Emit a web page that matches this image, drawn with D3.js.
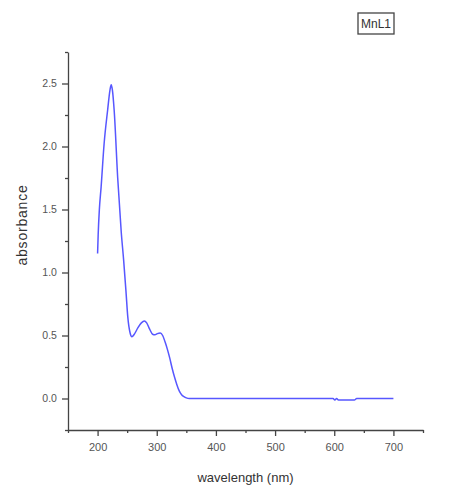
<!DOCTYPE html>
<html>
<head>
<meta charset="utf-8">
<script src="https://cdn.jsdelivr.net/npm/d3@7"></script>
<style>
  body { margin: 0; background: #fff; }
  text { font-family: Arial, "Liberation Sans", sans-serif; }
</style>
</head>
<body>
<div id="chart"></div>
<script>
// UV-Vis spectrum
const wavelength = [200, 201, 203, 206, 211, 217, 221, 223, 225, 228, 234, 240, 244, 248, 251, 255, 258,
  262, 268, 274, 279, 283, 288, 293, 297, 301, 306, 310, 314, 318, 322, 326, 330, 334, 338, 342, 346,
  350, 355, 400, 450, 500, 550, 598, 601, 604, 607, 620, 634, 638, 650, 700];
const absorbance = [1.15, 1.30, 1.50, 1.68, 2.02, 2.29, 2.45, 2.49, 2.45, 2.29, 1.75, 1.32, 1.10, 0.85, 0.65, 0.52, 0.49,
  0.51, 0.56, 0.60, 0.615, 0.60, 0.55, 0.51, 0.505, 0.515, 0.52, 0.50, 0.45, 0.39, 0.32, 0.24, 0.17, 0.11, 0.06, 0.03, 0.015,
  0.005, 0.0, 0.0, 0.0, 0.0, 0.0, 0.0, -0.012, 0.0, -0.012, -0.012, -0.012, 0.0, 0.0, 0.0];

const xMajor = [200, 300, 400, 500, 600, 700];
const xMinor = [150, 250, 350, 450, 550, 650, 750];
const yMajor = [0, 0.5, 1.0, 1.5, 2.0, 2.5];
const yMinor = [-0.25, 0.25, 0.75, 1.25, 1.75, 2.25, 2.75];
const seriesName = "MnL1";

function chart() {
  const width = 455,
    height = 494;
  const margin = { top: 52, right: 32, bottom: 64, left: 68 };

  const svg = d3.select("#chart").append("svg")
    .attr("width", width)
    .attr("height", height);

  const x = d3.scaleLinear().domain([150, 750]).range([margin.left, width - margin.right]);
  const y = d3.scaleLinear().domain([-0.25, 2.75]).range([height - margin.bottom, margin.top]);

  const axisColor = "#444";

  // bottom axis
  const gx = svg.append("g")
    .attr("transform", `translate(0,${height - margin.bottom})`)
    .call(d3.axisBottom(x).tickValues(xMajor).tickSize(6).tickSizeOuter(0).tickFormat(d3.format("d")));
  svg.append("g")
    .attr("transform", `translate(0,${height - margin.bottom})`)
    .call(d3.axisBottom(x).tickValues(xMinor).tickSize(3).tickSizeOuter(0).tickFormat(""))
    .call(g => g.select(".domain").remove());

  // left axis
  const gy = svg.append("g")
    .attr("transform", `translate(${margin.left},0)`)
    .call(d3.axisLeft(y).tickValues(yMajor).tickSize(6).tickSizeOuter(0).tickFormat(d3.format(".1f")));
  svg.append("g")
    .attr("transform", `translate(${margin.left},0)`)
    .call(d3.axisLeft(y).tickValues(yMinor).tickSize(3).tickSizeOuter(0).tickFormat(""))
    .call(g => g.select(".domain").remove());

  svg.selectAll(".domain, .tick line")
    .attr("stroke", axisColor)
    .attr("stroke-width", 1.3);

  gx.selectAll(".tick text")
    .attr("font-size", 11)
    .attr("fill", "#555")
    .attr("dy", "1.05em");
  gy.selectAll(".tick text")
    .attr("font-size", 10.5)
    .attr("fill", "#555")
    .attr("dx", "-0.2em");

  // axis titles
  svg.append("text")
    .attr("x", (margin.left + width - margin.right) / 2)
    .attr("y", 482)
    .attr("text-anchor", "middle")
    .attr("font-size", 13)
    .attr("fill", "#333")
    .text("wavelength (nm)");

  svg.append("text")
    .attr("transform", `translate(27,${225}) rotate(-90)`)
    .attr("text-anchor", "middle")
    .attr("font-size", 14)
    .attr("letter-spacing", 0.8)
    .attr("fill", "#333")
    .text("absorbance");

  // spectrum
  const data = wavelength.map((w, i) => ({ w: w, a: absorbance[i] }));
  const line = d3.line()
    .x(d => x(d.w))
    .y(d => y(d.a))
    .curve(d3.curveMonotoneX);

  svg.append("path")
    .datum(data)
    .attr("fill", "none")
    .attr("stroke", "#5757ff")
    .attr("stroke-width", 1.5)
    .attr("d", line);

  // legend box
  const legend = svg.append("g").attr("transform", "translate(358,13)");
  legend.append("rect")
    .attr("width", 36)
    .attr("height", 21)
    .attr("fill", "#fff")
    .attr("stroke", axisColor)
    .attr("stroke-width", 1.3);
  legend.append("text")
    .attr("x", 18)
    .attr("y", 15)
    .attr("text-anchor", "middle")
    .attr("font-size", 12)
    .attr("fill", "#333")
    .text(seriesName);
}

chart();
</script>
</body>
</html>
